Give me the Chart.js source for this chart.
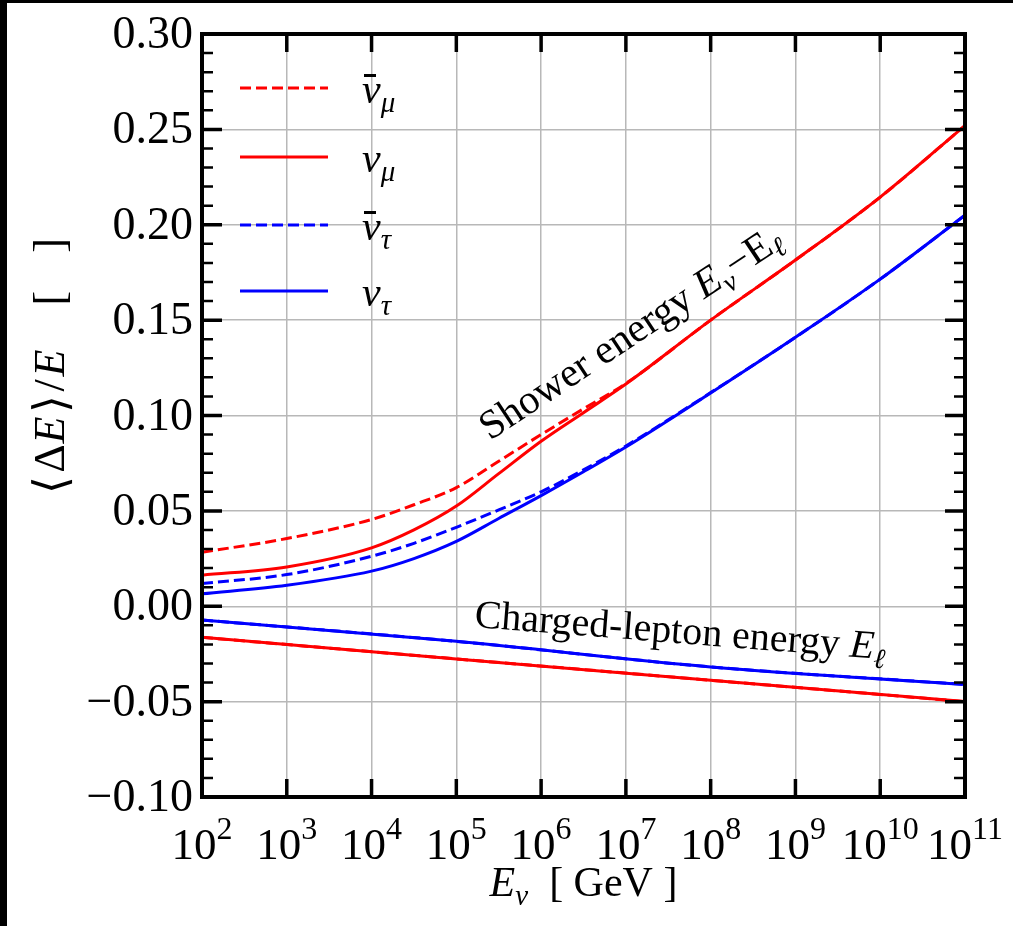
<!DOCTYPE html>
<html>
<head>
<meta charset="utf-8">
<script src="https://cdn.jsdelivr.net/npm/chart.js@4.4.1/dist/chart.umd.min.js"></script>
<style>
html,body{margin:0;padding:0;background:#fff;}
#wrap{width:1013px;height:926px;}
</style>
</head>
<body>
<div id="wrap"><canvas id="c" width="1013" height="926"></canvas></div>
<script>
/* -----------------------------
   DATA
------------------------------ */
const energies = [1e2, 1e3, 1e4, 3.16e4, 1e5, 3.16e5, 1e6, 3.16e6, 1e7, 1e8, 1e9, 1e10, 1e11];

const showerNuMuBar  = [0.0283, 0.0355, 0.0455, 0.0532, 0.0622, 0.0760, 0.0900, 0.1035, 0.1168, 0.1500, 0.1815, 0.2145, 0.2520];
const showerNuMu     = [0.0163, 0.0206, 0.0306, 0.0400, 0.0525, 0.0695, 0.0865, 0.1015, 0.1165, 0.1500, 0.1815, 0.2145, 0.2520];
const showerNuTauBar = [0.0119, 0.0166, 0.0262, 0.0330, 0.0414, 0.0505, 0.0600, 0.0715, 0.0840, 0.1120, 0.1410, 0.1715, 0.2050];
const showerNuTau    = [0.0065, 0.0110, 0.0184, 0.0250, 0.0340, 0.0460, 0.0580, 0.0705, 0.0835, 0.1118, 0.1410, 0.1715, 0.2050];

const leptonEnergies = [1e2, 1e5, 1e8, 1e11];
const leptonNuMuBar  = [-0.0163, -0.0276, -0.0388, -0.0500];
const leptonNuMu     = [-0.0163, -0.0276, -0.0388, -0.0500];
const leptonNuTauBar = [-0.0072, -0.0184, -0.0318, -0.0410];
const leptonNuTau    = [-0.0072, -0.0184, -0.0318, -0.0410];

const xTicks = [1e2, 1e3, 1e4, 1e5, 1e6, 1e7, 1e8, 1e9, 1e10, 1e11];
const xTickExps = ["2","3","4","5","6","7","8","9","10","11"];
const yTicks = [-0.10, -0.05, 0.00, 0.05, 0.10, 0.15, 0.20, 0.25, 0.30];

const legendSubs  = ["\u03BC", "\u03BC", "\u03C4", "\u03C4"];
const legendBar   = [true, false, true, false];
const legendColors = ["#ff0000", "#ff0000", "#0000ff", "#0000ff"];
const legendDashed = [true, false, true, false];

const RED = "#ff0000", BLUE = "#0000ff";
const SERIF = '"Liberation Serif","Times New Roman",serif';
function font(size, italic){ return (italic ? "italic " : "") + size + "px " + SERIF; }

function pts(xs, ys){ return xs.map((x,i)=>({x:x, y:ys[i]})); }

function line(data, color, dashed, order){
return {
data: data,
borderColor: color,
borderWidth: 3,
borderDash: dashed ? [11,5] : [],
pointRadius: 0,
fill: false,
cubicInterpolationMode: "monotone",
order: order
};
}

const datasets = [
line(pts(energies, showerNuMuBar), RED, true, 8),
line(pts(leptonEnergies, leptonNuMuBar), RED, true, 7),
line(pts(energies, showerNuMu), RED, false, 6),
line(pts(leptonEnergies, leptonNuMu), RED, false, 5),
line(pts(energies, showerNuTauBar), BLUE, true, 4),
line(pts(leptonEnergies, leptonNuTauBar), BLUE, true, 3),
line(pts(energies, showerNuTau), BLUE, false, 2),
line(pts(leptonEnergies, leptonNuTau), BLUE, false, 1)
];

/* -----------------------------
   TEXT HELPERS
------------------------------ */
function richWidth(ctx, parts){
let w = 0;
parts.forEach(p=>{ ctx.font = p.font; w += ctx.measureText(p.text).width + (p.gap || 0); });
return w;
}
function drawRich(ctx, parts, x, y, align){
let cx = x;
if(align === "center") cx = x - richWidth(ctx, parts)/2;
if(align === "right") cx = x - richWidth(ctx, parts);
parts.forEach(p=>{
ctx.font = p.font;
ctx.fillText(p.text, cx, y + (p.dy || 0));
cx += ctx.measureText(p.text).width + (p.gap || 0);
});
}

/* -----------------------------
   FRAME / LABELS PLUGIN
------------------------------ */
const framePlugin = {
id: "frame",
beforeDraw(chart){
const ctx = chart.ctx;
ctx.save();
ctx.fillStyle = "#fff";
ctx.fillRect(0, 0, chart.width, chart.height);
ctx.fillStyle = "#000";
ctx.fillRect(0, 0, chart.width, 3);
ctx.fillRect(0, 0, 7, chart.height);
ctx.restore();
},
afterDraw(chart){
const ctx = chart.ctx;
const a = chart.chartArea;
const xs = chart.scales.x, ys = chart.scales.y;
ctx.save();
ctx.strokeStyle = "#000";
ctx.fillStyle = "#000";

// minor / major y ticks, inward on both sides
for(let k=-10; k<=30; k++){
const y = ys.getPixelForValue(k/100);
const major = (k % 5 === 0);
const len = major ? 20 : 11;
ctx.lineWidth = major ? 3.5 : 2.5;
ctx.beginPath();
ctx.moveTo(a.left, y); ctx.lineTo(a.left + len, y);
ctx.moveTo(a.right, y); ctx.lineTo(a.right - len, y);
ctx.stroke();
}
// x major ticks, inward top and bottom
ctx.lineWidth = 3.5;
xTicks.forEach(v=>{
const x = xs.getPixelForValue(v);
ctx.beginPath();
ctx.moveTo(x, a.bottom); ctx.lineTo(x, a.bottom - 18);
ctx.moveTo(x, a.top); ctx.lineTo(x, a.top + 18);
ctx.stroke();
});

// spines
ctx.lineWidth = 4;
ctx.strokeRect(a.left, a.top, a.right - a.left, a.bottom - a.top);

// y tick labels
ctx.textAlign = "left";
ctx.textBaseline = "middle";
yTicks.forEach(v=>{
const y = ys.getPixelForValue(v) + 2;
const txt = (v < 0 ? "\u2212" : "") + Math.abs(v).toFixed(2);
ctx.font = font(46, false);
const w = ctx.measureText(txt).width;
ctx.fillText(txt, 193 - w, y);
});

// x tick labels 10^n
ctx.textBaseline = "alphabetic";
xTicks.forEach((v,i)=>{
const x = xs.getPixelForValue(v);
drawRich(ctx, [
{text:"10", font:font(45,false)},
{text:xTickExps[i], font:font(32,false), dy:-20}
], x, 859, "center");
});

// x axis title
drawRich(ctx, [
{text:"E", font:font(42,true)},
{text:"\u03BD", font:font(29,true), dy:9},
{text:"  [ GeV ]", font:font(42,false)}
], (a.left + a.right)/2, 896, "center");

// y axis title
ctx.save();
ctx.translate(64, 366);
ctx.rotate(-Math.PI/2);
drawRich(ctx, [
{text:"\u27E8", font:font(46,false), dy:2, gap:3},
{text:"\u0394", font:font(44,false), gap:1},
{text:"E", font:font(44,true), gap:4},
{text:"\u27E9", font:font(46,false), dy:2, gap:3},
{text:"/", font:font(44,false), gap:3},
{text:"E", font:font(44,true), gap:44},
{text:"[", font:font(44,false), gap:38},
{text:"]", font:font(44,false)}
], 0, 0, "center");
ctx.restore();

// legend
const rows = [88, 157, 225, 291];
rows.forEach((ry,i)=>{
ctx.strokeStyle = legendColors[i];
ctx.lineWidth = 3;
ctx.setLineDash(legendDashed[i] ? [11,5] : []);
ctx.beginPath();
ctx.moveTo(240, ry); ctx.lineTo(328, ry);
ctx.stroke();
ctx.setLineDash([]);
ctx.fillStyle = "#000";
drawRich(ctx, [
{text:"\u03BD", font:font(42,true)},
{text:legendSubs[i], font:font(29,true), dy:9}
], 362, ry + 15, "left");
if(legendBar[i]){
ctx.fillRect(364, ry - 14, 12, 3);
}
});

// annotations
ctx.fillStyle = "#000";
ctx.save();
ctx.translate(490, 441);
ctx.rotate(-33.5*Math.PI/180);
drawRich(ctx, [
{text:"Shower energy ", font:font(41,false)},
{text:"E", font:font(41,true)},
{text:"\u03BD", font:font(28,true), dy:9},
{text:"\u2212E", font:font(41,false)},
{text:"\u2113", font:font(28,true), dy:7}
], 0, 0, "left");
ctx.restore();

ctx.save();
ctx.translate(474, 627);
ctx.rotate(4.5*Math.PI/180);
drawRich(ctx, [
{text:"Charged-lepton energy ", font:font(40,false)},
{text:"E", font:font(40,true)},
{text:"\u2113", font:font(28,true), dy:9}
], 0, 0, "left");
ctx.restore();

ctx.restore();
}
};

/* -----------------------------
   CHART
------------------------------ */
new Chart(document.getElementById("c"), {
type: "line",
data: { datasets: datasets },
options: {
responsive: false,
animation: false,
devicePixelRatio: 1,
layout: { padding: { left: 202, right: 48, top: 34, bottom: 129 } },
plugins: { legend: { display: false }, tooltip: { enabled: false } },
scales: {
x: {
type: "logarithmic",
min: 1e2, max: 1e11,
afterBuildTicks(scale){ scale.ticks = xTicks.map(v=>({value:v})); },
ticks: { display: false },
grid: { color: "#b8b8b8", lineWidth: 1.5, drawTicks: false },
border: { display: false }
},
y: {
type: "linear",
min: -0.10, max: 0.30,
ticks: { display: false, stepSize: 0.05 },
grid: { color: "#b8b8b8", lineWidth: 1.5, drawTicks: false },
border: { display: false }
}
}
},
plugins: [framePlugin]
});
</script>
</body>
</html>
